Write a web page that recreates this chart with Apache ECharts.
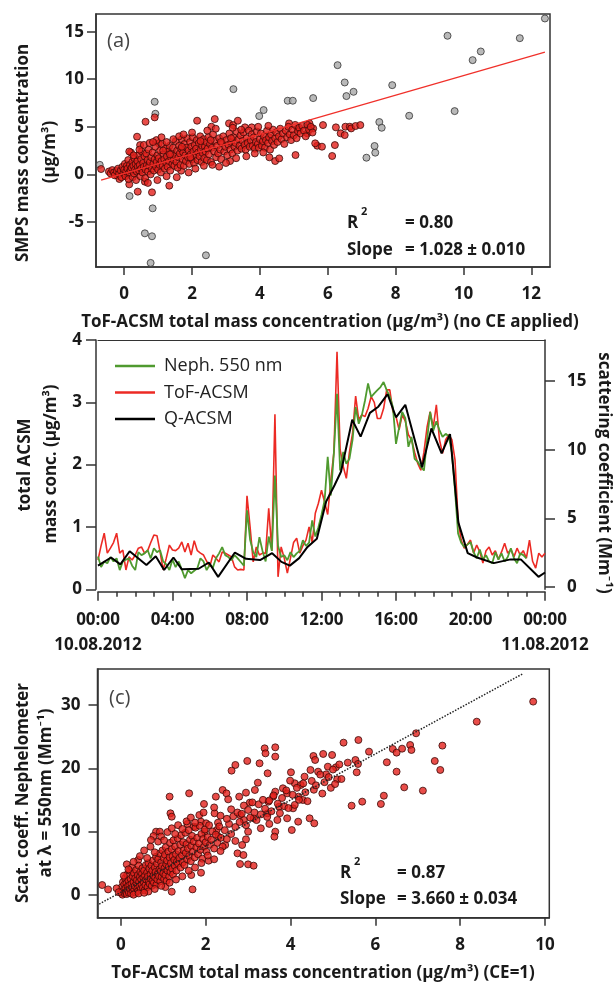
<!DOCTYPE html>
<html>
<head>
<meta charset="utf-8">
<script src="https://cdn.jsdelivr.net/npm/echarts@6/dist/echarts.min.js"></script>
<style>
html,body{margin:0;padding:0;background:#fff;}
#chart{width:614px;height:985px;}
</style>
</head>
<body>
<div id="chart"></div>
<script>
// ---------- Panel (a): SMPS vs ToF-ACSM (no CE) ----------
const aXTicks = [0, 2, 4, 6, 8, 10, 12];
const aYTicks = [-5, 0, 5, 10, 15];
const aGrayPoints = [
  [12.40,16.39],[9.53,14.57],[11.66,14.32],[10.51,12.92],[10.27,12.01],[6.29,11.48],
  [6.50,9.66],[6.76,8.68],[6.55,8.23],[7.90,9.38],[3.22,8.96],[0.90,7.63],[0.92,6.37],
  [4.82,7.74],[4.97,7.74],[5.57,8.02],[4.11,6.76],[3.98,6.13],[8.40,6.16],[9.74,6.65],
  [7.52,5.50],[7.59,4.90],[7.38,2.98],[7.40,2.28],[7.14,1.75],[0.16,-2.28],[0.84,-3.57],
  [0.61,-6.20],[0.82,-6.51],[2.41,-8.51],[0.78,-9.31],[-0.72,1.00]
];
const aRedPoints = [
  [0.38,3.96],[0.47,3.08],[0.63,5.53],[0.90,5.99],[1.02,3.26],[1.33,-1.19],[0.40,-1.82],
  [0.82,-1.89],[0.15,-1.05],[0.61,-0.77],[2.15,5.64],[2.67,5.81],[2.57,5.01],[3.09,5.36],
  [3.21,5.18],[3.35,5.64],[3.56,4.94],[3.76,4.94],[2.80,0.81],[3.12,1.40],[1.68,0.39],
  [4.28,1.79],[4.45,1.40],[4.57,1.68],[5.05,2.03],[4.86,5.36],[5.11,4.83],[5.46,5.36],
  [5.86,5.18],[5.69,3.01],[5.83,2.91],[5.63,3.26],[6.13,1.93],[6.21,3.08],[6.24,4.94],
  [6.38,4.31],[6.50,4.13],[6.52,5.01],[6.65,5.01],[6.69,4.83],[6.82,5.08],[6.96,5.18],
  [5.57,4.83],[5.40,4.31],[-0.20,-0.14],[-0.14,-0.49],[0.03,-0.07],[-0.68,0.56],
  [-0.45,0.3],[-0.4,0.1],[-0.35,0.45],[-0.3,0.2],[-0.28,-0.1],[-0.22,0.35],[-0.18,0.6],
  [-0.15,0.05],[-0.1,0.4],[-0.08,-0.3],[-0.05,0.8],[-0.02,0.15],[0.0,0.5],[0.02,1.1],
  [0.04,-0.2],[0.06,0.3],[0.08,0.9],[0.1,0.6],[0.12,1.5],[0.13,-0.5],[0.15,0.2],[0.17,1.0],
  [0.19,0.45],[0.2,2.3],[0.22,0.7],[0.24,1.3],[0.25,-0.3],[0.27,0.9],[0.29,0.1],[0.3,1.7],
  [0.32,0.5],[0.34,1.1],[0.35,-0.6],[0.37,0.3],[0.39,1.4],[0.4,0.8],[0.42,2.0],[0.44,0.4],
  [0.46,1.0],[0.48,-0.2],[0.5,1.6],[0.5,0.6],
  [0.52,2.4],[0.54,0.2],[0.56,1.2],[0.58,0.8],[0.6,1.9],[0.62,-0.4],[0.63,0.5],[0.65,2.2],
  [0.67,1.0],[0.69,1.5],[0.7,0.3],[0.72,2.6],[0.74,0.9],[0.76,1.3],[0.78,0.0],[0.8,1.8],
  [0.82,0.6],[0.84,2.3],[0.86,1.1],[0.88,0.4],[0.9,1.6],[0.92,2.9],[0.94,0.8],[0.96,1.3],
  [0.98,2.0],[1.0,0.5],[1.02,1.7],[1.04,1.0],[1.06,2.5],[1.08,0.2],[1.1,1.4],[1.12,3.2],
  [1.14,0.9],[1.16,2.1],[1.18,1.6],[1.2,0.6],[1.22,2.7],[1.24,1.2],[1.26,1.9],[1.28,0.8],
  [1.3,2.4],[1.32,1.4],[1.34,3.0],[1.36,0.4],[1.38,1.8],[1.4,2.2],[1.42,1.1],[1.44,2.8],
  [1.46,1.5],[1.48,0.9],
  [1.5,2.0],[1.52,3.5],[1.54,1.3],[1.56,2.5],[1.58,0.7],[1.6,1.8],[1.62,3.0],[1.64,2.2],
  [1.66,1.0],[1.68,2.7],[1.7,3.7],[1.72,1.6],[1.74,2.3],[1.76,0.9],[1.78,3.2],[1.8,2.0],
  [1.82,1.4],[1.84,2.8],[1.86,3.8],[1.88,1.8],[1.9,2.5],[1.92,1.1],[1.94,3.4],[1.96,2.1],
  [1.98,2.9],[2.0,1.6],[2.02,3.9],[2.04,2.4],[2.06,1.2],[2.08,3.1],[2.1,2.0],[2.12,2.7],
  [2.14,3.6],[2.16,1.5],[2.18,2.3],[2.2,3.3],[2.22,1.9],[2.24,4.0],[2.26,2.6],[2.28,1.3],
  [2.3,3.0],[2.32,2.2],[2.34,3.7],[2.36,1.7],[2.38,2.9],[2.4,2.4],[2.42,3.4],[2.44,1.5],
  [2.46,2.7],[2.48,3.9],
  [2.5,2.1],[2.53,3.2],[2.56,1.3],[2.59,2.8],[2.62,4.2],[2.65,2.4],[2.68,3.5],[2.71,1.8],
  [2.74,3.0],[2.77,2.2],[2.8,3.8],[2.83,2.6],[2.86,1.6],[2.89,3.3],[2.92,4.0],[2.95,2.4],
  [2.98,2.9],[3.01,3.6],[3.04,2.0],[3.07,3.1],[3.1,4.3],[3.13,2.6],[3.16,3.4],[3.19,2.2],
  [3.22,3.9],[3.25,2.9],[3.28,3.3],[3.31,4.5],[3.34,2.5],[3.37,3.7],[3.4,3.0],[3.43,4.1],
  [3.46,2.7],[3.49,3.5],
  [3.52,4.4],[3.55,3.1],[3.58,2.6],[3.61,3.8],[3.64,3.3],[3.67,4.6],[3.7,2.9],[3.73,3.6],
  [3.76,4.2],[3.79,3.0],[3.82,3.9],[3.85,2.7],[3.88,3.4],[3.91,4.5],[3.94,3.2],[3.97,2.8],
  [4.0,3.7],[4.03,4.3],[4.06,3.0],[4.09,3.5],[4.12,4.0],[4.15,2.8],[4.18,3.6],[4.21,4.6],
  [4.24,3.3],[4.27,3.9],[4.3,2.6],[4.33,4.2],[4.36,3.5],[4.39,4.7],[4.42,3.1],[4.45,3.8],
  [4.48,4.4],
  [4.52,3.4],[4.56,4.0],[4.6,4.8],[4.64,3.7],[4.68,4.3],[4.72,3.2],[4.76,4.6],[4.8,3.9],
  [4.84,5.0],[4.88,4.2],[4.92,3.6],[4.96,4.7],[5.0,4.1],[5.04,5.2],[5.08,3.8],[5.12,4.5],
  [5.16,4.9],[5.2,4.3],[5.25,5.1],[5.3,4.6],[5.35,4.0],[5.4,5.2],[5.45,4.7],[5.5,5.0],
  [5.55,4.4],
  [0.15,2.4],[0.28,2.0],[0.45,2.6],[0.58,3.1],[0.75,3.3],[0.95,3.6],[1.1,3.9],[1.25,3.4],
  [1.45,3.7],[1.62,4.0],[1.75,4.2],[1.55,-0.3],[1.25,-0.2],[0.98,-0.6],[0.7,-0.9],[1.9,0.2],
  [2.1,0.6],[2.35,0.9],[2.6,1.0],[3.0,1.2],[3.3,1.7],[3.6,1.9],[3.85,2.2],[4.1,2.3],
  [1.15,2.5],[1.35,2.1],[1.7,2.9],[1.95,1.8],[2.25,3.5],[2.55,3.6],[2.85,3.4],[3.15,3.8],
  [0.85,3.4],[2.0,4.4],[2.45,4.6],[2.7,4.8],[3.2,4.9],[3.45,4.7],[3.95,5.0],[4.25,5.1]
];
const aFitLine = [[-0.68, -0.60], [12.40, 12.85]];

// ---------- Panel (b): time series 10.08.2012 ----------
const bXTicks = [0, 4, 8, 12, 16, 20, 24];
const bTimeLabels = ['00:00', '04:00', '08:00', '12:00', '16:00', '20:00', '00:00'];
const bDateLabels = ['10.08.2012', '11.08.2012'];
const bStepHours = 1 / 6; // 10-minute resolution
// ToF-ACSM total mass (µg/m3), every 10 min from 00:00
const tofMass = [
  0.47,0.70,0.90,0.58,0.66,0.75,0.90,0.58,0.63,0.31,0.52,0.47,
  0.55,0.66,0.68,0.58,0.62,0.75,0.87,0.86,0.60,0.31,0.50,0.71,
  0.63,0.62,0.66,0.76,0.60,0.74,0.55,0.78,0.62,0.58,0.55,0.45,
  0.36,0.55,0.50,0.44,0.60,0.58,0.55,0.52,0.36,0.31,0.32,0.31,
  1.50,1.00,0.44,0.68,0.55,0.58,0.58,1.30,0.62,2.81,0.20,0.68,
  0.50,0.26,0.50,0.75,0.82,0.58,0.70,0.79,1.00,0.75,1.22,1.38,
  1.59,1.40,1.20,1.75,2.20,3.81,2.24,1.97,1.78,2.20,2.50,3.10,
  2.72,2.80,2.77,2.90,3.09,3.00,2.74,2.74,2.90,3.20,3.20,2.85,
  2.77,2.56,2.80,2.70,2.48,2.40,2.20,2.02,1.91,2.20,2.60,2.85,
  2.60,2.96,2.40,2.18,2.40,2.48,2.40,2.08,1.11,0.79,0.66,0.72,
  0.79,0.58,0.71,0.60,0.42,0.62,0.68,0.55,0.62,0.48,0.60,0.74,
  0.58,0.64,0.52,0.66,0.55,0.62,0.50,0.79,0.45,0.34,0.58,0.52,
  0.58
];
// Nephelometer scattering coefficient at 550 nm (Mm-1), every 10 min from 00:00
const nephScat = [
  2.22,1.44,1.85,1.72,2.17,1.85,2.08,1.22,1.85,1.99,2.08,1.54,
  1.22,2.53,2.31,2.44,2.67,2.08,2.81,2.53,2.67,1.85,1.63,1.22,
  1.99,1.44,1.85,1.26,0.63,1.22,0.99,1.17,1.35,2.08,1.85,1.22,
  1.63,1.40,2.08,2.44,2.90,2.31,2.17,1.94,2.31,2.08,1.81,1.54,
  5.58,3.44,2.53,2.17,3.62,2.62,1.85,3.67,2.62,8.12,2.99,2.17,
  2.31,1.94,2.53,2.17,2.44,2.62,3.40,2.99,3.22,4.85,3.67,4.35,
  5.26,6.30,9.48,6.67,9.80,14.07,8.48,9.84,8.98,9.34,10.71,13.11,
  11.89,12.52,13.57,14.84,13.84,14.11,14.34,14.57,14.93,14.34,13.88,13.11,
  10.43,11.61,12.75,12.30,10.21,10.93,9.34,9.12,8.75,8.48,10.71,12.75,
  11.39,12.07,11.43,10.93,11.16,10.98,9.80,7.07,3.90,3.22,2.90,3.08,
  3.26,2.53,2.08,2.72,1.99,2.31,1.85,1.72,2.53,1.99,2.44,1.85,
  2.17,2.81,2.08,1.72,2.44,2.31,2.08
];
// Q-ACSM total mass (µg/m3): [hour of day, value]
const qacsmMass = [
  [0,0.38],[0.7,0.51],[1.2,0.40],[1.7,0.61],[2.6,0.39],[3.1,0.53],[3.55,0.31],[4.05,0.51],
  [4.5,0.32],[5.4,0.33],[5.95,0.43],[6.45,0.20],[7.35,0.59],[7.95,0.49],[8.7,0.47],[9.35,0.58],
  [9.85,0.44],[10.3,0.38],[10.8,0.50],[11.25,0.68],[11.75,0.81],[12.25,1.41],[12.7,1.67],
  [13.05,1.89],[13.65,2.72],[14.1,2.45],[14.6,2.83],[15.05,2.93],[15.55,3.13],[16.0,2.76],
  [16.5,2.96],[17.4,1.96],[17.9,2.58],[18.45,2.18],[18.9,2.49],[19.35,1.07],[19.85,0.58],
  [20.35,0.51],[21.25,0.42],[22.15,0.48],[22.7,0.48],[23.65,0.20],[24,0.27]
];
const bRightTicks = [0, 5, 10, 15];

// ---------- Panel (c): Nephelometer vs ToF-ACSM (CE=1) ----------
const cXTicks = [0, 2, 4, 6, 8, 10];
const cYTicks = [0, 10, 20, 30];
const cPoints = [
  [9.72,30.54],[8.39,27.37],[6.96,25.53],[6.82,23.68],[6.85,22.89],[6.41,23.05],[6.50,22.47],
  [6.63,23.10],[7.58,23.58],[7.40,21.15],[7.53,19.73],[7.12,16.46],[6.68,16.98],[6.50,19.46],
  [6.27,20.94],[6.20,15.66],[6.13,14.35],[5.25,24.05],[5.60,24.47],[5.85,22.63],[5.35,20.89],
  [5.53,21.31],[5.59,20.68],[5.56,19.36],[5.44,14.08],[5.69,14.72],[4.98,22.10],[4.77,22.26],
  [4.54,21.94],[4.58,21.31],[4.88,20.25],[5.07,20.15],[5.10,18.25],[4.84,19.04],[4.65,19.46],
  [4.47,19.73],[4.33,18.67],[4.01,19.36],[4.10,17.62],[4.24,17.35],[3.99,18.04],[4.19,15.51],
  [3.92,16.03],[3.64,16.30],[3.82,16.83],[3.64,23.31],[3.64,21.84],[3.39,23.15],[3.41,22.36],
  [3.27,20.78],[3.46,19.20],[2.98,21.15],[2.70,20.52],[2.61,19.62],[2.40,16.56],[2.49,16.03],
  [2.53,15.08],[2.79,15.51],[2.95,16.14],[3.04,14.56],[3.23,17.72],[3.16,16.56],[3.48,14.72],
  [3.59,15.51],[3.73,13.92],[4.06,13.66],[4.29,14.98],[3.46,12.87],[3.69,11.81],[3.92,12.08],
  [4.18,11.55],[4.45,12.08],[4.56,11.29],[4.03,10.23],[3.64,9.97],[3.62,9.18],[2.81,12.61],
  [2.90,11.81],[3.13,12.08],[3.00,9.97],[2.95,8.76],[2.86,7.86],[2.75,6.54],[2.89,6.28],
  [2.81,4.85],[3.00,4.80],[3.13,4.59],[2.46,7.86],[2.30,9.18],[2.26,10.23],[1.98,9.97],
  [2.29,11.39],[2.21,12.87],[2.24,15.51],[1.61,16.03],[1.96,14.35],[1.15,15.51],[1.17,12.87],
  [1.20,12.34],[1.57,11.18],[1.72,10.76],[1.89,11.55],[2.01,11.29],[0.83,9.97],[0.77,9.28],
  [0.71,8.65],[0.92,9.97],[2.07,5.38],[1.89,3.48],[1.66,3.11],[1.69,0.84],[1.20,0.47],
  [0.41,5.49],[0.14,4.80],[-0.44,1.53],[-0.30,0.84],
  [0.0,0.3],[0.02,1.2],[0.04,0.0],[0.05,2.0],[0.06,0.6],[0.08,1.6],[0.09,0.2],[0.1,2.6],
  [0.11,1.0],[0.12,0.4],[0.13,1.8],[0.14,0.1],[0.15,3.2],[0.16,1.3],[0.17,0.7],[0.18,2.2],
  [0.19,0.3],[0.2,1.5],[0.21,3.8],[0.22,0.9],[0.23,2.5],[0.24,0.2],[0.25,1.7],[0.26,4.3],
  [0.27,1.1],[0.28,2.9],[0.29,0.5],[0.3,2.0],[0.31,3.4],[0.32,0.8],[0.33,1.4],[0.34,2.6],
  [0.35,0.3],[0.36,3.9],[0.37,1.8],[0.38,2.3],[0.39,1.0],[0.4,3.1],[0.41,0.6],[0.42,4.6],
  [0.43,2.0],[0.44,1.3],[0.45,2.8],[0.46,3.6],[0.47,0.9],[0.48,2.4],[0.49,1.6],[0.5,3.3],
  [0.51,4.2],[0.52,1.1],[0.53,2.7],[0.54,2.0],[0.55,3.8],[0.56,0.7],[0.57,3.0],[0.58,1.5],
  [0.59,4.7],[0.6,2.4],[0.62,3.5],[0.63,1.2],[0.64,2.9],[0.65,5.0],[0.66,2.0],[0.67,4.1],
  [0.68,1.7],[0.7,3.2],[0.71,2.5],[0.72,4.6],[0.73,1.4],[0.74,3.8],[0.75,2.2],[0.76,5.4],
  [0.77,3.0],[0.78,1.9],[0.8,4.3],[0.81,2.7],[0.82,3.6],[0.83,6.0],[0.84,1.6],[0.85,4.9],
  [0.86,2.4],[0.87,3.3],[0.88,5.6],[0.9,2.9],[0.91,4.0],[0.92,6.5],[0.93,2.1],[0.94,3.7],
  [0.95,5.1],[0.96,2.8],[0.97,4.5],[0.98,7.0],[1.0,3.4],[1.01,5.8],[1.02,2.5],[1.03,4.2],
  [1.04,6.3],[1.05,3.1],[1.06,7.5],[1.07,4.8],[1.08,2.2],[1.09,5.4],[1.1,3.8],[1.12,6.8],
  [1.13,4.4],[1.14,2.9],[1.15,5.9],[1.16,8.2],[1.17,3.6],[1.18,5.0],[1.2,7.2],[1.21,4.1],
  [1.22,6.1],[1.23,3.2],[1.24,8.6],[1.26,5.5],[1.27,4.6],[1.28,7.6],[1.3,6.4],[1.31,3.8],
  [1.32,5.2],[1.34,8.9],[1.35,4.9],[1.36,6.9],[1.38,5.8],[1.4,7.9],[1.41,4.3],[1.42,9.4],
  [1.44,6.2],[1.46,5.1],[1.47,8.3],[1.48,7.0],[1.5,4.7],[1.52,9.8],[1.53,6.6],[1.55,8.0],
  [1.56,5.6],[1.58,7.3],[1.6,10.2],[1.61,6.1],[1.63,8.7],[1.65,5.3],[1.66,7.7],[1.68,9.3],
  [1.7,6.8],[1.72,8.4],[1.74,5.9],[1.76,10.6],[1.78,7.5],[1.8,9.0],[1.82,6.4],[1.84,8.1],
  [1.86,10.9],[1.88,7.1],[1.9,9.6],[1.92,5.7],[1.94,8.8],[1.96,7.6],[1.98,10.3],[2.0,8.3],
  [2.02,6.8],[2.05,9.1],[2.08,11.0],[2.1,7.9],[2.13,8.7],[2.16,10.0],[2.2,7.3],[2.24,9.5],
  [2.28,8.2],[2.32,10.8],[2.36,9.0],[2.4,7.6],[2.45,10.2],[2.5,8.8],[2.55,11.2],[2.6,9.6],
  [2.65,12.4],[2.7,10.7],[2.75,13.0],[2.8,11.5],[2.85,12.8],[2.9,14.1],[2.95,11.0],[3.0,13.4],
  [3.05,12.2],[3.1,14.6],[3.15,13.0],[3.2,11.8],[3.25,14.3],[3.3,12.7],[3.35,15.0],[3.4,13.6],
  [3.45,12.3],[3.5,14.9],[3.55,13.2],[3.6,15.7],[3.7,14.4],[3.75,12.9],[3.8,15.3],[3.85,14.0],
  [3.9,16.5],[3.95,13.7],[4.05,15.8],[4.1,14.2],[4.15,16.9],[4.2,15.0],[4.3,17.6],[4.35,16.2],
  [4.4,14.8],[4.5,18.0],[4.55,16.6],[4.6,17.3],[4.7,19.0],[4.75,16.0],[4.8,17.8],[4.9,18.6],
  [4.95,16.9],[5.0,19.8],[5.05,17.5],[5.15,20.6],[5.2,18.3],
  [0.3,5.2],[0.45,6.1],[0.55,7.0],[0.62,5.8],[0.7,7.6],[0.8,6.7],[0.88,8.4],[0.95,9.2],
  [1.02,8.6],[1.1,9.9],[1.2,10.5],[1.28,9.6],[1.35,11.0],[1.45,10.4],[1.55,11.6],[1.65,12.2],
  [1.75,11.4],[1.85,12.6],[1.05,1.2],[1.15,1.9],[1.3,2.4],[1.45,2.9],[1.6,3.8],[1.75,4.3],
  [1.9,5.0],[2.05,6.2],[2.2,5.6],[2.35,6.9],[0.65,0.5],[0.8,0.9],[0.95,1.4],[0.3,0.0],
  [0.42,0.2],[0.55,0.3],[-0.1,1.0],[-0.05,0.4],[0.07,3.0],[0.18,4.0],[2.5,12.0],[2.6,13.5],
  [2.35,12.5],[2.7,8.5],[3.3,10.5],[3.5,11.2],[2.2,13.8],[1.95,13.0]
];
const cFitLine = [[-0.51, -1.48], [9.49, 35.0]];

// ---------- styling ----------
const FONT = '"Open Sans", Lato, "DejaVu Sans", sans-serif';
const INK = '#1a1a1a';
const FRAME = '#333';
const lblStyle = { fontFamily: FONT, fontSize: 17, fontWeight: 'bold', color: INK };
const tickStyle = { color: FRAME, width: 1.5 };
const TITLE = 17;

function valueAxis(extra) {
  return Object.assign({
    type: 'value',
    splitLine: { show: false },
    axisLine: { show: true, onZero: false, lineStyle: tickStyle },
  }, extra);
}

const tofSeries = tofMass.map((v, i) => [i * bStepHours, v]);
const nephSeries = nephScat.map((v, i) => [i * bStepHours, v]);

const chart = echarts.init(document.getElementById('chart'), null, { renderer: 'canvas' });

function gtext(x, y, text, opts) {
  return Object.assign({ type: 'text', x: x, y: y, style: Object.assign({
    text: text, fontFamily: FONT, fontSize: TITLE, fontWeight: 'bold', fill: INK, verticalAlign: 'middle'
  }, (opts && opts.style) || {}) }, (opts && opts.rotation !== undefined) ? { rotation: opts.rotation } : {});
}
const ROT_UP = Math.PI / 2, ROT_DOWN = -Math.PI / 2;

const option = {
  animation: false,
  backgroundColor: '#fff',
  grid: [
    { left: 96, top: 14, width: 454, height: 253, show: true, borderColor: FRAME, borderWidth: 1.5, backgroundColor: 'transparent' },
    { left: 98, top: 340, width: 447, height: 249.3, show: false },
    { left: 97.5, top: 669, width: 451.8, height: 248.7, show: true, borderColor: FRAME, borderWidth: 1.5, backgroundColor: 'transparent' }
  ],
  xAxis: [
    valueAxis({ gridIndex: 0, min: -0.83, max: 12.55,
      axisTick: { show: true, length: 8, lineStyle: tickStyle, customValues: aXTicks },
      axisLabel: Object.assign({ customValues: aXTicks, margin: 19 }, lblStyle) }),
    valueAxis({ gridIndex: 1, min: 0, max: 24, interval: 4, offset: 2.5,
      axisTick: { show: true, length: 9, lineStyle: tickStyle },
      minorTick: { show: true, splitNumber: 4, length: 5, lineStyle: tickStyle },
      minorSplitLine: { show: false },
      axisLabel: Object.assign({ margin: 16, lineHeight: 25, showMinLabel: true, showMaxLabel: true,
        formatter: function (v) {
          const k = bXTicks.indexOf(v);
          const t = k >= 0 ? bTimeLabels[k] : '';
          if (v === bXTicks[0]) return t + '\n' + bDateLabels[0];
          if (v === bXTicks[bXTicks.length - 1]) return t + '\n' + bDateLabels[1];
          return t;
        } }, lblStyle) }),
    valueAxis({ gridIndex: 1, position: 'top', min: 0, max: 24,
      axisLine: { show: true, onZero: false, lineStyle: { color: FRAME, width: 1.2 } },
      axisTick: { show: false }, axisLabel: { show: false } }),
    valueAxis({ gridIndex: 2, min: -0.55, max: 10.1,
      axisTick: { show: true, length: 8, lineStyle: tickStyle, customValues: cXTicks },
      axisLabel: Object.assign({ customValues: cXTicks, margin: 19 }, lblStyle) })
  ],
  yAxis: [
    valueAxis({ gridIndex: 0, min: -9.74, max: 16.86,
      axisTick: { show: true, length: 9, lineStyle: tickStyle, customValues: aYTicks },
      axisLabel: Object.assign({ customValues: aYTicks, margin: 12 }, lblStyle) }),
    valueAxis({ gridIndex: 1, min: 0, max: 4, interval: 1, offset: 2,
      axisTick: { show: true, length: 10, lineStyle: tickStyle },
      axisLabel: Object.assign({ margin: 14 }, lblStyle) }),
    valueAxis({ gridIndex: 1, position: 'right', min: -0.18, max: 18,
      axisTick: { show: true, length: 10, lineStyle: tickStyle, customValues: bRightTicks },
      axisLabel: Object.assign({ customValues: bRightTicks, margin: 22 }, lblStyle) }),
    valueAxis({ gridIndex: 2, min: -3.64, max: 35.7,
      axisTick: { show: true, length: 9, lineStyle: tickStyle, customValues: cYTicks },
      axisLabel: Object.assign({ customValues: cYTicks, margin: 17 }, lblStyle) })
  ],
  legend: {
    data: ['Neph. 550 nm', 'ToF-ACSM', 'Q-ACSM'],
    orient: 'vertical', left: 110, top: 352,
    icon: 'rect', itemWidth: 40, itemHeight: 2.5, itemGap: 8.5,
    textStyle: { fontFamily: FONT, fontSize: 18, color: '#222', padding: [0, 0, 0, 4] }
  },
  series: [
    { type: 'scatter', name: 'SMPS outliers', xAxisIndex: 0, yAxisIndex: 0, data: aGrayPoints,
      symbolSize: 7, itemStyle: { color: '#a8a8a8', borderColor: '#333', borderWidth: 1 }, z: 2 },
    { type: 'scatter', name: 'SMPS', xAxisIndex: 0, yAxisIndex: 0, data: aRedPoints,
      symbolSize: 7, itemStyle: { color: '#e3211c', borderColor: '#3a0a08', borderWidth: 1 }, z: 3 },
    { type: 'line', name: 'fitA', xAxisIndex: 0, yAxisIndex: 0, data: aFitLine,
      symbol: 'none', lineStyle: { color: '#f0302a', width: 1.2 }, z: 5 },
    { type: 'line', name: 'ToF-ACSM', xAxisIndex: 1, yAxisIndex: 1, data: tofSeries,
      symbol: 'none', lineStyle: { color: '#ec2a24', width: 1.6 }, itemStyle: { color: '#ec2a24' }, z: 3 },
    { type: 'line', name: 'Neph. 550 nm', xAxisIndex: 1, yAxisIndex: 2, data: nephSeries,
      symbol: 'none', lineStyle: { color: '#4f9a2f', width: 1.8 }, itemStyle: { color: '#4f9a2f' }, z: 4 },
    { type: 'line', name: 'Q-ACSM', xAxisIndex: 1, yAxisIndex: 1, data: qacsmMass,
      symbol: 'none', lineStyle: { color: '#000', width: 2 }, itemStyle: { color: '#000' }, z: 5 },
    { type: 'scatter', name: 'Neph vs ToF', xAxisIndex: 3, yAxisIndex: 3, data: cPoints,
      symbolSize: 7, itemStyle: { color: '#e3211c', borderColor: '#3a0a08', borderWidth: 1 }, z: 3 },
    { type: 'line', name: 'fitC', xAxisIndex: 3, yAxisIndex: 3, data: cFitLine,
      symbol: 'none', lineStyle: { color: '#222', width: 1.5, type: 'dotted' }, z: 5 }
  ],
  graphic: [
    gtext(107, 41, '(a)', { style: { fontSize: 20, fontWeight: 'normal', fill: '#444' } }),
    gtext(109, 698, '(c)', { style: { fontSize: 20, fontWeight: 'normal', fill: '#444' } }),
    gtext(347, 223, 'R'),
    gtext(361, 212, '2', { style: { fontSize: 11 } }),
    gtext(405, 223, '= 0.80'),
    gtext(347, 250, 'Slope'),
    gtext(405, 250, '= 1.028 ± 0.010'),
    gtext(340, 873, 'R'),
    gtext(354, 862, '2', { style: { fontSize: 11 } }),
    gtext(397, 873, '= 0.87'),
    gtext(340, 899, 'Slope'),
    gtext(397, 899, '= 3.660 ± 0.034'),
    gtext(23, 153, 'SMPS mass concentration', { rotation: ROT_UP, style: { align: 'center' } }),
    gtext(50, 152, '(µg/m³)', { rotation: ROT_UP, style: { align: 'center' } }),
    gtext(330, 322, 'ToF-ACSM total mass concentration (µg/m³) (no CE applied)', { style: { align: 'center' } }),
    gtext(25, 465, 'total ACSM', { rotation: ROT_UP, style: { align: 'center' } }),
    gtext(51, 464, 'mass conc. (µg/m³)', { rotation: ROT_UP, style: { align: 'center' } }),
    gtext(604, 473, 'scattering coefficient (Mm⁻¹)', { rotation: ROT_DOWN, style: { align: 'center' } }),
    gtext(23, 793, 'Scat. coeff. Nephelometer', { rotation: ROT_UP, style: { align: 'center' } }),
    gtext(46, 793, 'at λ = 550nm (Mm⁻¹)', { rotation: ROT_UP, style: { align: 'center' } }),
    gtext(323, 973, 'ToF-ACSM total mass concentration (µg/m³) (CE=1)', { style: { align: 'center' } })
  ]
};
chart.setOption(option);
</script>
</body>
</html>
